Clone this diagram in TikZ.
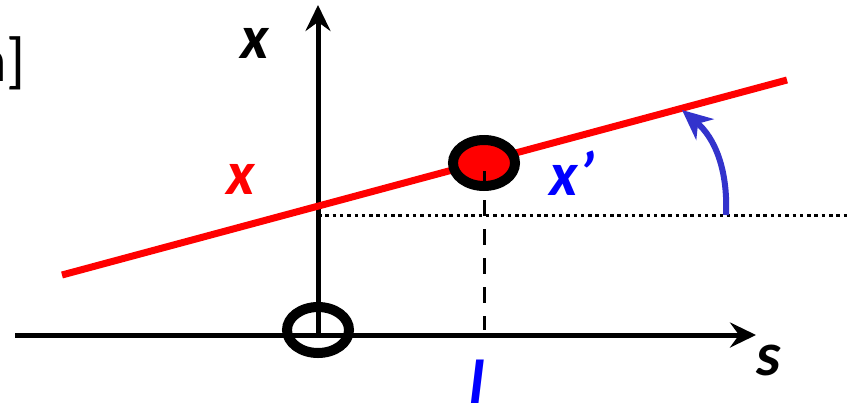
\documentclass[tikz,border=0pt]{standalone}
\usepackage{fontspec}
\setmainfont{Carlito}
\usetikzlibrary{arrows.meta,shapes.geometric}
\definecolor{arrowblue}{RGB}{51,51,204}
\begin{document}
\begin{tikzpicture}[x=1pt,y=-1pt,
  axis/.style={line width=5pt,black},
  axtip/.style={-{Stealth[length=26pt,width=25pt,inset=9pt]}},
  lbl/.style={font=\fontsize{62}{62}\selectfont\bfseries\itshape,inner sep=0pt,anchor=base},
  ring/.style={ellipse,draw=black,line width=10pt,inner sep=0pt,minimum width=62pt,minimum height=46pt},
  redline/.style={line width=7pt,red},
  dotline/.style={line width=3pt,dash pattern=on 3.5pt off 3.8pt},
  dashline/.style={line width=3pt,dash pattern=on 16pt off 13pt},
  bluearrow/.style={line width=6pt,arrowblue,-{Stealth[length=30pt,width=27pt,inset=9pt]}}
]
\useasboundingbox (0,0) rectangle (850,407);
% coordinates
\coordinate (hl) at (15,335);
\coordinate (hr) at (756,335);
\coordinate (vb) at (318,335);
\coordinate (vt) at (318,5);
\coordinate (r1) at (62,275);
\coordinate (r2) at (787,80);
\coordinate (d1) at (318,215);
\coordinate (d2) at (850,215);
\coordinate (p1) at (484,171);
\coordinate (p2) at (484,330);
\coordinate (a1) at (726,215);
\coordinate (a2) at (682,110);
% axes
\draw[axis,axtip] (hl) -- (hr);
\draw[axis,axtip] (vb) -- (vt);
% dotted reference line
\draw[dotline] (d1) -- (d2);
% red line
\draw[redline] (r1) -- (r2);
% point on line
\node[ring,fill=red] (pt) at (484,163) {};
\draw[dashline] (p1) -- (p2);
% origin ring
\node[ring] (org) at (318,330) {};
% angle arrow
\draw[bluearrow] (a1) .. controls (728,170) and (715,138) .. (a2);
% labels
\node[lbl] (lx) at (255,58) {x};
\node[lbl,red] (lxr) at (241,194) {x};
\node[lbl,blue] (lxp) at (572,195) {x’};
\node[lbl] (ls) at (769,375) {s};
\node[lbl,blue] (ll) at (477,403) {l};
\begin{scope}
\clip (0,0) rectangle (850,407);
\node[font=\fontsize{62}{62}\selectfont,inner sep=0pt,anchor=base east] (unit) at (26,81) {n]};
\end{scope}
\end{tikzpicture}
\end{document}
